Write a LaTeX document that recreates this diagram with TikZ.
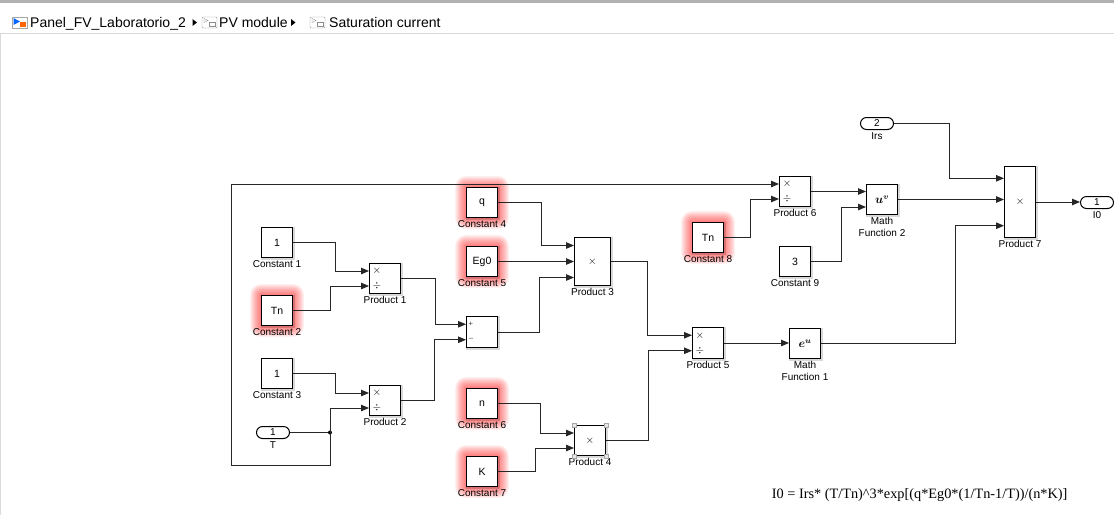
\documentclass[tikz,border=0pt]{standalone}
\usepackage{fontspec}
\setmainfont{Liberation Serif}
\setsansfont{Liberation Sans}
\usepackage{bm}
\usetikzlibrary{arrows.meta,backgrounds}

% lueur rouge autour d'un bloc
\newcommand{\lueur}[1]{%
  \foreach \r in {1,...,11}{%
    \fill[red,opacity=.06,rounded corners=\r pt]
      ([shift={(-\r pt,-\r pt)}]#1.south west) rectangle ([shift={(\r pt,\r pt)}]#1.north east);}}

% ombre grise sous un bloc
\newcommand{\ombre}[1]{%
  \fill[black,opacity=.15] ([shift={(0pt,-1.5pt)}]#1.south west) rectangle ([shift={(1.5pt,0pt)}]#1.north east);}

% signes x et / devant les entrees d'un produit
\newcommand{\muldiv}[1]{%
  \node[signe] (#1x) at ([xshift=8pt,yshift=7.5pt]#1.west) {$\times$};
  \node[signe] (#1d) at ([xshift=8pt,yshift=-7.5pt]#1.west) {$\div$};}

\begin{document}
\begin{tikzpicture}[x=1pt,y=-1pt,font=\sffamily,label distance=2.5pt]
    \useasboundingbox (0,0) rectangle (1114,515);
    \tikzstyle{bloc}=[draw,line width=1pt,fill=white,minimum width=31pt,minimum height=30pt,inner sep=0pt,
        font=\sffamily\fontsize{10.5}{11}\selectfont]
    \tikzstyle{port}=[draw,line width=1pt,fill=white,rounded corners=6pt,minimum width=33pt,minimum height=12pt,
        inner sep=0pt,font=\sffamily\fontsize{10}{10}\selectfont]
    \tikzstyle{every label}=[inner sep=0pt,font=\sffamily\fontsize{10}{11.7}\selectfont,align=center]
    \tikzstyle{signe}=[inner sep=0pt,font=\fontsize{11}{11}\selectfont]
    \tikzstyle{fil}=[line width=1pt,black!85,-{Triangle[length=8pt,width=6.5pt]}]
    \tikzstyle{fil0}=[line width=1pt,black!85]

    %%%%%%%%%%%%%%%%%%%%%%%%%%%%%%%%%%%%%% Barre de navigation
    \draw[gray!60,line width=2.5pt] (0,1.5) -- (1114,1.5);
    \draw[gray!30] (0,33.5) -- (1114,33.5);
    \draw[gray!30] (0.5,33.5) -- (0.5,515);
    \tikzstyle{chemin}=[anchor=base west,inner sep=0pt,font=\sffamily\fontsize{14}{14}\selectfont]
    \node[chemin] (modele) at (30,27) {Panel\_FV\_Laboratorio\_2};
    \node[chemin] (module) at (219,27) {PV module};
    \node[chemin] (satur) at (329,27) {Saturation current};
    % icones
    \draw[gray!70,fill=white] (12,17) rectangle (27,28);
    \fill[blue!60!cyan] (13.5,18) -- (20,21.5) -- (13.5,25) -- cycle;
    \fill[orange!80!red] (19.5,21.5) rectangle (26,27);
    \foreach \x in {202,310}{
      \draw[gray!80,fill=white,rounded corners=1pt] (\x,17) rectangle ++(15,11);
      \draw[gray!90] (\x+2,18.5) -- (\x+6,20.5) -- (\x+2,22.5) -- cycle;
      \draw[gray!90] (\x+7,22) rectangle ++(6,4.5);
    }
    \foreach \x in {192.5,291}
      \fill (\x,19) -- (\x+4.5,22.5) -- (\x,26) -- cycle;

    %%%%%%%%%%%%%%%%%%%%%%%%%%%%%%%%%%%%%% Constantes
    \node[bloc,label=below:Constant 1] (c1) at (277,242.5) {1};
    \node[bloc,label=below:Constant 2] (c2) at (277,310.5) {Tn};
    \node[bloc,label=below:Constant 3] (c3) at (277,373.5) {1};
    \node[bloc,label=below:Constant 4] (c4) at (482,202.5) {q};
    \node[bloc,label=below:Constant 5] (c5) at (482,261.5) {Eg0};
    \node[bloc,label=below:Constant 6] (c6) at (482,403.5) {n};
    \node[bloc,label=below:Constant 7] (c7) at (482,471.5) {K};
    \node[bloc,label=below:Constant 8] (c8) at (708,237.5) {Tn};
    \node[bloc,label=below:Constant 9] (c9) at (795,261.5) {3};

    %%%%%%%%%%%%%%%%%%%%%%%%%%%%%%%%%%%%%% Entrees / sortie
    \node[port,label=below:T] (T) at (273,432.5) {1};
    \node[port,label=below:Irs] (Irs) at (877,123.5) {2};
    \node[port,label=below:I0] (I0) at (1097,202.5) {1};

    %%%%%%%%%%%%%%%%%%%%%%%%%%%%%%%%%%%%%% Produits et fonctions
    \node[bloc,label=below:Product 1] (p1) at (385,278.5) {};
    \node[bloc,label=below:Product 2] (p2) at (385,400.5) {};
    \node[bloc,minimum height=31pt] (sub) at (482,332) {};
    \node[bloc,minimum width=36pt,minimum height=48pt,label=below:Product 3] (p3) at (592.5,261.5) {\fontsize{11}{11}\selectfont$\times$};
    \node[bloc,label=below:Product 4] (p4) at (590,440.5) {\fontsize{11}{11}\selectfont$\times$};
    \node[bloc,minimum height=31pt,label=below:Product 5] (p5) at (708,343) {};
    \node[bloc,label=below:Product 6] (p6) at (795,191.5) {};
    \node[bloc,minimum height=71pt,label=below:Product 7] (p7) at (1020,202) {\fontsize{11}{11}\selectfont$\times$};
    \node[bloc,label={below:Math\\Function 1}] (mf1) at (805,343.5) {\fontsize{12}{12}\selectfont$\bm{e^{u}}$};
    \node[bloc,label={below:Math\\Function 2}] (mf2) at (882,199.5) {\fontsize{12}{12}\selectfont$\bm{u^{v}}$};

    \muldiv{p1}
    \muldiv{p2}
    \muldiv{p5}
    \muldiv{p6}
    \node[signe,font=\fontsize{8}{8}\selectfont] (subp) at ([xshift=5pt,yshift=7.75pt]sub.west) {+};
    \node[signe,font=\fontsize{8}{8}\selectfont] (subm) at ([xshift=5pt,yshift=-7.75pt]sub.west) {--};

    % selection du produit 4
    \foreach \a in {north west,north east,south west,south east}
      \draw[gray!70,fill=gray!20] ([shift={(-2pt,-2pt)}]p4.\a) rectangle ([shift={(2pt,2pt)}]p4.\a);

    %%%%%%%%%%%%%%%%%%%%%%%%%%%%%%%%%%%%%% Ports d'entree
    \coordinate (p1a) at ([yshift=7.5pt]p1.west);
    \coordinate (p1b) at ([yshift=-7.5pt]p1.west);
    \coordinate (p2a) at ([yshift=7.5pt]p2.west);
    \coordinate (p2b) at ([yshift=-7.5pt]p2.west);
    \coordinate (suba) at ([yshift=7.75pt]sub.west);
    \coordinate (subb) at ([yshift=-7.75pt]sub.west);
    \coordinate (p3a) at ([yshift=16pt]p3.west);
    \coordinate (p3c) at ([yshift=-16pt]p3.west);
    \coordinate (p4a) at ([yshift=7.5pt]p4.west);
    \coordinate (p4b) at ([yshift=-7.5pt]p4.west);
    \coordinate (p5a) at ([yshift=7.75pt]p5.west);
    \coordinate (p5b) at ([yshift=-7.75pt]p5.west);
    \coordinate (p6a) at ([yshift=7.5pt]p6.west);
    \coordinate (p6b) at ([yshift=-7.5pt]p6.west);
    \coordinate (mf2b) at ([yshift=-7.5pt]mf2.west);
    \coordinate (p7a) at ([yshift=23.7pt]p7.west);
    \coordinate (p7c) at ([yshift=-23.7pt]p7.west);
    \coordinate (jT) at (330,432.5);
    \coordinate (retour) at (231,465.5);

    %%%%%%%%%%%%%%%%%%%%%%%%%%%%%%%%%%%%%% Liaisons
    \draw[fil] (c1.east) -- ++(42,0) |- (p1a);
    \draw[fil] (c2.east) -- ++(37,0) |- (p1b);
    \draw[fil] (c3.east) -- ++(42,0) |- (p2a);
    \draw[fil0] (T.east) -- (jT);
    \fill (jT) circle (2pt);
    \draw[fil] (jT) |- (p2b);
    \draw[fil] (jT) |- (retour) |- (p6a);
    \draw[fil] (p1.east) -- ++(34.5,0) |- (suba);
    \draw[fil] (p2.east) -- ++(33,0) |- (subb);
    \draw[fil] (sub.east) -- ++(41,0) |- (p3c);
    \draw[fil] (c4.east) -- ++(43,0) |- (p3a);
    \draw[fil] (c5.east) -- (c5.east -| p3.west);
    \draw[fil] (p3.east) -- ++(36,0) |- (p5a);
    \draw[fil] (c6.east) -- ++(42,0) |- (p4a);
    \draw[fil] (c7.east) -- ++(37,0) |- (p4b);
    \draw[fil] (p4.east) -- ++(42,0) |- (p5b);
    \draw[fil] (p5.east) -- (p5.east -| mf1.west);
    \draw[fil] (mf1.east) -- ++(134.5,0) |- (p7c);
    \draw[fil] (Irs.east) -- ++(55,0) |- (p7a);
    \draw[fil] (c8.east) -- ++(26,0) |- (p6b);
    \draw[fil] (p6.east) -- (p6.east -| mf2.west);
    \draw[fil] (c9.east) -- ++(30,0) |- (mf2b);
    \draw[fil] (mf2.east) -- (mf2.east -| p7.west);
    \draw[fil] (p7.east) -- (p7.east -| I0.west);

    %%%%%%%%%%%%%%%%%%%%%%%%%%%%%%%%%%%%%% Formule
    \node[anchor=base west,inner sep=0pt,font=\rmfamily\fontsize{14.3}{15}\selectfont] (formule) at (771.7,498)
        {I0 = Irs*\ (T/Tn)\textasciicircum 3*exp[(q*Eg0*(1/Tn-1/T))/(n*K)]};

    %%%%%%%%%%%%%%%%%%%%%%%%%%%%%%%%%%%%%% Lueurs et ombres
    \begin{scope}[on background layer]
      \foreach \c in {c2,c4,c5,c6,c7,c8} {\lueur{\c}}
      \foreach \b in {c1,c2,c3,c4,c5,c6,c7,c8,c9,p1,p2,sub,p3,p4,p5,p6,p7,mf1,mf2} {\ombre{\b}}
    \end{scope}
\end{tikzpicture}
\end{document}
